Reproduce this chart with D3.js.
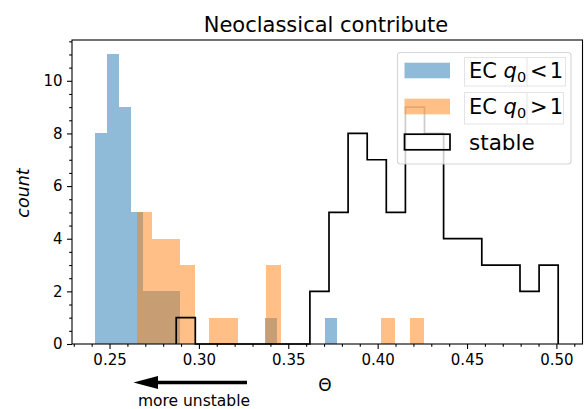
<!DOCTYPE html>
<html>
<head>
<meta charset="utf-8">
<script src="https://cdn.jsdelivr.net/npm/d3@7"></script>
<style>
  html, body { margin: 0; padding: 0; background: #fff; }
  svg { display: block; }
  text { font-family: "DejaVu Sans", sans-serif; fill: #000; }
</style>
</head>
<body>
<svg id="chart" width="585" height="409"></svg>
<script>
// ---- data ----
const blueRange = [0.2418, 0.3775];     // EC q0 < 1, 20 bins
const blueCounts = [8, 11, 9, 5, 2, 2, 2, 0, 0, 0, 0, 0, 0, 0, 1, 0, 0, 0, 0, 1];
const orangeRange = [0.2656, 0.4260];   // EC q0 > 1, 20 bins
const orangeCounts = [5, 4, 4, 3, 0, 1, 1, 0, 0, 3, 0, 0, 0, 0, 0, 0, 0, 1, 0, 1];
const stableRange = [0.2873, 0.5010];   // stable, 20 bins
const stableCounts = [1, 0, 0, 0, 0, 0, 0, 2, 5, 8, 7, 5, 9, 8, 4, 4, 3, 3, 2, 3];
const xTicks = [0.25, 0.30, 0.35, 0.40, 0.45, 0.50];
const yTicks = [0, 2, 4, 6, 8, 10];
const legendLabels = ["EC", "stable"];

const svg = d3.select("#chart");
const plot = {left: 72, right: 582.5, top: 40, bottom: 344};

const x = d3.scaleLinear().domain([0.2290, 0.5146]).range([plot.left, plot.right]);
const y = d3.scaleLinear().domain([0, 11.55]).range([plot.bottom, plot.top]);

function bins(range, counts) {
  const n = counts.length, w = (range[1] - range[0]) / n;
  return counts.map((c, i) => ({x0: range[0] + i * w, x1: range[0] + (i + 1) * w, c}));
}

const g = svg.append("g");

// filled histograms
function drawFilled(range, counts, color) {
  g.append("g").selectAll("rect")
    .data(bins(range, counts).filter(d => d.c > 0))
    .join("rect")
    .attr("x", d => x(d.x0))
    .attr("width", d => x(d.x1) - x(d.x0))
    .attr("y", d => y(d.c))
    .attr("height", d => y(0) - y(d.c))
    .attr("fill", color)
    .attr("fill-opacity", 0.5)
    .attr("shape-rendering", "crispEdges");
}
drawFilled(blueRange, blueCounts, "#1f77b4");
drawFilled(orangeRange, orangeCounts, "#ff7f0e");

// step histogram
const sb = bins(stableRange, stableCounts);
const pts = [[sb[0].x0, 0]];
sb.forEach(d => { pts.push([d.x0, d.c]); pts.push([d.x1, d.c]); });
pts.push([sb[sb.length - 1].x1, 0]);
g.append("path")
  .attr("d", d3.line().x(p => x(p[0])).y(p => y(p[1]))(pts))
  .attr("fill", "none")
  .attr("stroke", "#000")
  .attr("stroke-width", 1.7)
  .attr("stroke-linejoin", "miter");

// axes
svg.append("g").attr("transform", `translate(0,${plot.bottom})`)
  .call(d3.axisBottom(x).tickValues(xTicks).tickFormat(d3.format(".2f")).tickSize(5).tickPadding(5));
const xMinor = d3.range(23, 52).map(i => i / 100).filter(v => !xTicks.some(t => Math.abs(t - v) < 1e-9));
svg.append("g").attr("transform", `translate(0,${plot.bottom})`)
  .call(d3.axisBottom(x).tickValues(xMinor).tickFormat("").tickSize(2.8));
svg.append("g").attr("transform", `translate(${plot.left},0)`)
  .call(d3.axisLeft(y).tickValues(yTicks).tickFormat(d3.format("d")).tickSize(5).tickPadding(4.5));
const yMinor = d3.range(0, 24).map(i => i / 2).filter(v => !yTicks.includes(v));
svg.append("g").attr("transform", `translate(${plot.left},0)`)
  .call(d3.axisLeft(y).tickValues(yMinor).tickFormat("").tickSize(2.8));

svg.selectAll(".domain").remove();
svg.selectAll(".tick line").attr("stroke", "#000").attr("stroke-width", 1.1);
svg.selectAll(".tick text").attr("font-size", 15).attr("font-family", "DejaVu Sans").attr("fill", "#000");

// frame
svg.append("rect")
  .attr("x", plot.left).attr("y", plot.top)
  .attr("width", plot.right - plot.left).attr("height", plot.bottom - plot.top)
  .attr("fill", "none").attr("stroke", "#000").attr("stroke-width", 1.1);

// title & labels
svg.append("text").attr("x", 326).attr("y", 31.5)
  .attr("text-anchor", "middle").attr("font-size", 21).text("Neoclassical contribute");
svg.append("text").attr("transform", `translate(28.5,193) rotate(-90)`)
  .attr("text-anchor", "middle").attr("font-size", 17.5).attr("font-style", "italic").text("count");
svg.append("text").attr("x", 325).attr("y", 391)
  .attr("text-anchor", "middle").attr("font-size", 17).text("Θ");

// arrow "more unstable"
svg.append("line").attr("x1", 247).attr("y1", 382.5).attr("x2", 152).attr("y2", 382.5)
  .attr("stroke", "#000").attr("stroke-width", 3.4);
svg.append("path").attr("d", "M133.5,382.5 L158,376 L158,389 Z").attr("fill", "#000");
svg.append("text").attr("x", 194).attr("y", 406)
  .attr("text-anchor", "middle").attr("font-size", 15.5).text("more unstable");

// legend
const lg = svg.append("g");
lg.append("rect").attr("x", 397.5).attr("y", 52.5).attr("width", 173.5).attr("height", 111.5)
  .attr("rx", 3).attr("fill", "#fff").attr("fill-opacity", 0.8)
  .attr("stroke", "#cccccc").attr("stroke-opacity", 0.8).attr("stroke-width", 1.1);

const rows = [
  {type: "fill", color: "#1f77b4", cy: 70.5, op: "<", box: [464.5, 57.5, 101, 28.5]},
  {type: "fill", color: "#ff7f0e", cy: 106.5, op: ">", box: [464.5, 92.5, 99, 31.5]},
  {type: "step", cy: 142}
];
rows.forEach(r => {
  if (r.type === "fill") {
    lg.append("rect").attr("x", 404.5).attr("y", r.cy - 7.8).attr("width", 45.5).attr("height", 15.6)
      .attr("fill", r.color).attr("fill-opacity", 0.5);
    lg.append("rect").attr("x", r.box[0]).attr("y", r.box[1]).attr("width", r.box[2]).attr("height", r.box[3])
      .attr("fill", "none").attr("stroke", "#e4e4e4").attr("stroke-width", 1);
    lg.append("line").attr("x1", 527).attr("x2", 527).attr("y1", r.box[1]).attr("y2", r.box[1] + r.box[3])
      .attr("stroke", "#e4e4e4").attr("stroke-width", 1);
    const t = lg.append("text").attr("x", 469).attr("y", r.cy + 7.8).attr("font-size", 21);
    t.append("tspan").text(legendLabels[0] + " ");
    t.append("tspan").attr("font-style", "italic").text("q");
    t.append("tspan").attr("font-size", 14.5).attr("dy", 3.5).text("0");
    lg.append("text").attr("x", 530).attr("y", r.cy + 7.8).attr("font-size", 21).text(r.op + "\u200A1");
  } else {
    lg.append("rect").attr("x", 404.5).attr("y", r.cy - 7.8).attr("width", 45.5).attr("height", 15.6)
      .attr("fill", "none").attr("stroke", "#000").attr("stroke-width", 1.7);
    lg.append("text").attr("x", 469).attr("y", r.cy + 7.5).attr("font-size", 21.5).text(legendLabels[1]);
  }
});
</script>
</body>
</html>
